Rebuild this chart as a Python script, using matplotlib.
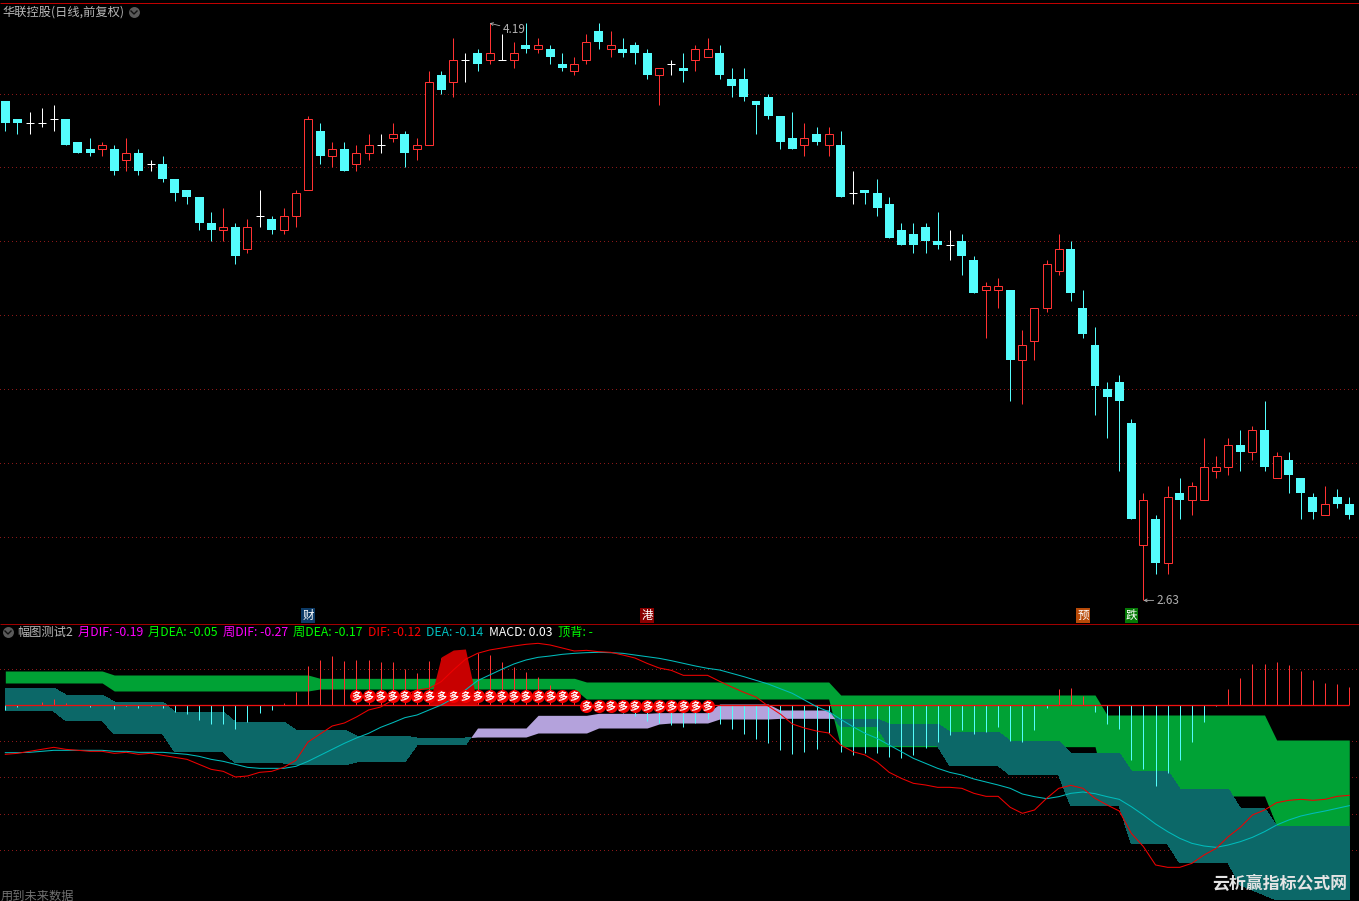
import numpy as np
import matplotlib
matplotlib.use('Agg')
import matplotlib.pyplot as plt

plt.rcParams['font.family'] = ['Noto Sans CJK SC', 'DejaVu Sans']

# daily prices
opens = [3.98,3.93,3.92,3.92,3.93,3.93,3.87,3.85,3.85,3.85,3.82,3.84,3.81,3.81,3.77,3.74,3.72,3.65,3.63,3.64,
         3.58,3.67,3.66,3.63,3.67,3.74,3.90,3.83,3.85,3.81,3.84,3.86,3.88,3.89,3.85,3.86,4.05,4.03,4.09,4.11,
         4.09,4.09,4.09,4.13,4.12,4.12,4.08,4.06,4.09,4.17,4.12,4.12,4.13,4.11,4.05,4.08,4.07,4.09,4.10,4.11,
         4.04,4.04,3.98,3.99,3.94,3.88,3.86,3.89,3.86,3.86,3.73,3.74,3.73,3.70,3.63,3.62,3.64,3.60,3.59,3.60,
         3.55,3.47,3.47,3.47,3.28,3.33,3.42,3.52,3.58,3.42,3.32,3.20,3.22,3.11,2.78,2.85,2.73,2.92,2.90,2.90,
         2.98,2.99,3.05,3.03,3.09,2.96,3.01,2.96,2.91,2.86,2.91,2.89]
closes = [3.92,3.92,3.92,3.92,3.93,3.86,3.84,3.84,3.86,3.79,3.84,3.79,3.81,3.77,3.73,3.72,3.65,3.63,3.64,3.56,
          3.64,3.67,3.63,3.67,3.73,3.93,3.83,3.85,3.79,3.84,3.86,3.86,3.89,3.84,3.86,4.03,4.01,4.09,4.09,4.08,
          4.11,4.09,4.11,4.12,4.13,4.10,4.07,4.08,4.14,4.14,4.13,4.11,4.11,4.05,4.07,4.08,4.06,4.12,4.12,4.05,
          4.02,3.99,3.97,3.94,3.87,3.85,3.88,3.87,3.89,3.72,3.73,3.73,3.69,3.61,3.59,3.59,3.60,3.59,3.59,3.56,
          3.46,3.48,3.48,3.28,3.32,3.42,3.54,3.58,3.46,3.35,3.21,3.18,3.17,2.85,2.90,2.73,2.91,2.90,2.94,2.99,
          2.99,3.05,3.03,3.09,2.99,3.02,2.97,2.92,2.87,2.89,2.89,2.86]
highs = [3.98,3.93,3.95,3.96,3.97,3.93,3.87,3.88,3.87,3.86,3.88,3.85,3.82,3.83,3.77,3.74,3.72,3.68,3.69,3.65,
         3.66,3.74,3.67,3.69,3.74,3.94,3.92,3.87,3.87,3.86,3.89,3.89,3.92,3.90,3.88,4.06,4.06,4.15,4.11,4.12,
         4.19,4.16,4.14,4.19,4.15,4.13,4.11,4.10,4.16,4.19,4.17,4.15,4.14,4.12,4.07,4.09,4.11,4.13,4.15,4.13,
         4.07,4.07,3.98,4.00,3.94,3.95,3.92,3.91,3.91,3.90,3.79,3.74,3.77,3.72,3.65,3.65,3.65,3.68,3.63,3.62,
         3.56,3.49,3.50,3.47,3.36,3.42,3.55,3.62,3.60,3.47,3.37,3.22,3.24,3.12,2.92,2.86,2.94,2.96,2.95,3.07,
         3.02,3.07,3.09,3.10,3.17,3.03,3.03,2.96,2.92,2.94,2.93,2.91]
lows = [3.90,3.89,3.89,3.91,3.90,3.86,3.84,3.83,3.83,3.78,3.79,3.78,3.79,3.76,3.71,3.70,3.63,3.60,3.60,3.54,
        3.57,3.64,3.62,3.62,3.64,3.74,3.81,3.80,3.79,3.79,3.82,3.84,3.87,3.80,3.82,3.86,4.00,3.99,4.03,4.06,
        4.08,4.09,4.07,4.11,4.11,4.08,4.06,4.05,4.08,4.12,4.10,4.10,4.08,4.04,3.97,4.05,4.03,4.06,4.10,4.04,
        3.99,3.98,3.89,3.93,3.85,3.85,3.83,3.86,3.83,3.72,3.70,3.70,3.67,3.61,3.59,3.57,3.57,3.58,3.55,3.51,
        3.46,3.34,3.42,3.17,3.16,3.28,3.41,3.51,3.44,3.34,3.13,3.07,2.98,2.85,2.63,2.70,2.70,2.85,2.86,2.90,
        2.96,2.97,2.98,3.01,2.98,2.96,2.92,2.85,2.85,2.86,2.88,2.85]
price_grid = [4.0, 3.8, 3.6, 3.4, 3.2, 3.0, 2.8]

# event tags under the candles: bar number, text, colour
tag_bars = [25, 53, 89, 93]
tag_text = ['财', '港', '预', '跌']
tag_colors = ['#0c3a66', '#8a0000', '#b84a08', '#067a06']

# lower panel in thousandths
macd = [-16,-7,0,8,17,4,0,-7,0,-13,-3,-10,-3,-10,-22,-28,-46,-58,-58,-73,-52,-25,-16,4,38,116,134,146,131,134,
        134,128,128,108,95,131,140,150,155,155,149,128,113,98,83,59,35,15,-10,-15,-20,-25,-35,-49,-56,-61,-67,-55,-43,-58,
        -73,-88,-103,-115,-136,-148,-142,-133,-85,-142,-151,-145,-145,-157,-160,-151,-130,-112,-91,-76,-88,-82,-67,-109,-112,-76,-10,47,50,26,
        -22,-58,-73,-166,-193,-244,-205,-166,-112,-52,-3,47,80,122,122,128,119,101,74,65,62,53]
dif = [-149,-146,-140,-134,-128,-134,-137,-140,-140,-146,-143,-149,-146,-152,-158,-164,-179,-194,-200,-217,-214,-203,-200,-188,-167,-112,-88,-64,-55,-37,
       -16,-7,14,29,44,49,69,104,136,154,164,170,176,181,184,179,170,161,163,159,157,149,140,124,110,103,88,88,88,70,
       53,37,23,-4,-28,-58,-70,-79,-85,-121,-141,-151,-172,-203,-221,-236,-241,-248,-248,-251,-266,-275,-275,-308,-326,-316,-281,-251,-242,-251,
       -281,-301,-319,-386,-426,-481,-488,-488,-476,-451,-431,-396,-368,-331,-316,-294,-287,-284,-287,-284,-275,-272]
dea = [-144,-144,-143,-140,-137,-137,-137,-137,-137,-140,-140,-143,-143,-143,-146,-149,-155,-164,-170,-179,-188,-191,-191,-191,-185,-170,-152,-134,-116,-100,
       -86,-68,-54,-39,-31,-16,-1,19,44,72,89,106,122,134,142,146,151,154,156,157,156,154,149,144,139,132,124,116,109,104,
       94,84,73,62,48,34,14,-6,-21,-44,-66,-86,-101,-121,-141,-161,-176,-191,-203,-211,-223,-232,-241,-251,-268,-276,-282,-276,-266,-262,
       -267,-276,-284,-306,-331,-358,-381,-401,-416,-424,-428,-421,-411,-398,-381,-361,-346,-334,-326,-319,-311,-303]
month_a = [101,101,101,101,101,101,101,101,101,89,89,89,89,89,89,89,89,89,89,89,89,89,89,89,89,89,
           79,79,79,79,79,79,79,79,79,79,79,79,79,79,79,79,79,79,79,79,79,79,
           68,68,68,68,68,68,68,68,68,68,68,68,68,68,68,68,68,68,68,68,68,
           29,29,29,29,29,29,29,29,29,29,29,29,29,29,29,29,29,29,29,29,29,29,
           -31,-31,-31,-31,-31,-31,-31,-31,-31,-31,-31,-31,-31,-31,
           -106,-106,-106,-106,-106,-106,-106]
month_b = [65,65,65,65,65,65,65,65,65,41,41,41,41,41,41,41,41,41,41,41,41,41,41,41,41,41,
           47,47,47,47,47,47,47,47,47,47,47,47,47,47,47,47,47,47,47,47,47,47,
           17,17,17,17,17,17,17,17,17,17,17,17,17,17,17,17,17,17,17,17,17,
           -126,-126,-126,-126,-126,-126,-126,-126,-126,-126,-126,-126,-126,-126,-126,-126,-126,-126,-126,-126,-126,-126,
           -274,-274,-274,-274,-274,-274,-274,-274,-274,-274,-274,-274,-274,-274,
           -364,-364,-364,-364,-364,-364,-364]
week_a = [50,50,50,50,50,29,29,29,29,8,8,8,8,8,-22,-22,-22,-22,-22,-52,-52,-52,-52,-52,-76,-76,-76,-76,-76,
          -94,-94,-94,-94,-94,-100,-100,-100,-100,-100,-97,-97,-97,-97,-97,-85,-85,-85,-85,-85,-70,-70,-70,-70,-70,
          -58,-55,-55,-55,-55,-43,-43,-43,-43,-43,-41,-41,-41,-41,-41,-43,-43,-43,-43,-58,-58,-58,-58,-58,
          -82,-82,-82,-82,-82,-109,-109,-109,-109,-109,-146,-146,-146,-146,-146,-199,-199,-199,-199,
          -253,-253,-253,-253,-253,-311,-311,-311,-364,-364,-364,-364,-364,-364,-364]
week_b = [-19,-19,-19,-19,-19,-48,-48,-48,-48,-88,-88,-88,-88,-88,-142,-142,-142,-142,-142,-175,-175,-175,-175,-175,-181,-181,-181,-181,-181,
          -172,-172,-172,-172,-172,-121,-121,-121,-121,-121,-70,-70,-70,-70,-70,-32,-32,-32,-32,-32,-26,-26,-26,-26,-26,
          -24,-24,-24,-24,-24,2,2,2,2,2,-16,-16,-16,-16,-16,-67,-67,-67,-67,-124,-124,-124,-124,-124,
          -183,-183,-183,-183,-183,-211,-211,-211,-211,-211,-304,-304,-304,-304,-304,-418,-418,-418,-418,
          -475,-475,-475,-475,-475,-541,-556,-571,-586,-586,-586,-586,-586,-586,-586]
hot_bars = [35, 36, 37, 38, 39]
hot_top = [0, 143, 164, 167, 0]
duo_bars = list(range(29, 59))
duo_vals = [27,27,27,27,27,27,27,27,27,27,27,27,27,27,27,27,27,27,27,
            -4,-4,-4,-4,-4,-4,-4,-4,-4,-4,-4]
panel_grid = [108, -110, -218, -329, -437]

BLACK = '#000000'
RED = '#ff3232'
CYAN = '#54fcfc'
GRID = '#8a1818'
LW = 0.72  # one screen pixel
W, H = 1359, 901
X_PER_BAR = 12.108
X0 = 5.3

fig = plt.figure(figsize=(W / 100, H / 100), dpi=100, facecolor=BLACK)
xlim = (-X0 / X_PER_BAR, (W - X0) / X_PER_BAR)

# candles
ax = fig.add_axes([0, (H - 623) / H, 1, 620 / H], facecolor=BLACK)
ax.set_xlim(xlim)
ax.set_ylim(2.5689, 4.2446)
ax.axis('off')
for p in price_grid:
    ax.axhline(p, color=GRID, lw=0.5, ls=(0, (1.4, 4.4)), zorder=1, antialiased=False)

for i in range(len(opens)):
    o, c, h, l = opens[i], closes[i], highs[i], lows[i]
    if c > o:
        ax.vlines(i, l, h, color=RED, lw=LW, zorder=2)
        ax.bar(i, c - o, 0.66, o, facecolor=BLACK, edgecolor=RED, lw=LW, zorder=3)
    elif c < o:
        ax.vlines(i, l, h, color=CYAN, lw=LW, zorder=2)
        ax.bar(i, o - c, 0.74, c, color=CYAN, lw=0, zorder=3, antialiased=False)
    else:
        ax.vlines(i, l, h, color='white', lw=LW, zorder=2)
        ax.hlines(o, i - 0.33, i + 0.33, color='white', lw=LW, zorder=3)

# high / low marks
ax.annotate('4.19', xy=(40, highs[40]), xytext=(13, -6), textcoords='offset pixels', color='#b0b0b0',
            fontsize=8.5, va='center', ha='left', zorder=5,
            arrowprops=dict(arrowstyle='->', color='#b0b0b0', lw=0.6, shrinkA=0, shrinkB=0, mutation_scale=5))
ax.annotate('2.63', xy=(94, lows[94]), xytext=(13, 0), textcoords='offset pixels', color='#b0b0b0',
            fontsize=8.5, va='center', ha='left', zorder=5,
            arrowprops=dict(arrowstyle='->', color='#b0b0b0', lw=0.6, shrinkA=0, shrinkB=0, mutation_scale=5))

for b, t, col in zip(tag_bars, tag_text, tag_colors):
    ax.text(b, 0.0115, t, color='white', fontsize=8.3, ha='center', va='center', zorder=6,
            transform=ax.get_xaxis_transform(),
            bbox=dict(boxstyle='square,pad=0.08', fc=col, ec='none'))

# indicator panel
ax2 = fig.add_axes([0, 0, 1, (H - 624) / H], facecolor=BLACK)
ax2.set_xlim(xlim)
ax2.set_ylim(-589, 242)
ax2.axis('off')
xs = np.arange(len(dif))
for g in panel_grid:
    ax2.axhline(g, color=GRID, lw=0.5, ls=(0, (1.4, 4.4)), zorder=1, antialiased=False)

m_a, m_b = np.array(month_a), np.array(month_b)
w_a, w_b = np.array(week_a), np.array(week_b)
ax2.fill_between(xs, m_a, m_b, color='#00a235', lw=0, zorder=2, antialiased=False)
ax2.fill_between(xs, w_a, w_b, where=w_a >= w_b, interpolate=True, color='#0c6868', lw=0, zorder=3, antialiased=False)
ax2.fill_between(xs, w_a, w_b, where=w_a <= w_b, interpolate=True, color='#b4a2dc', lw=0, zorder=3, antialiased=False)

for i, v in enumerate(macd):
    if v != 0:
        ax2.vlines(i, 0, v, color=RED if v > 0 else CYAN, lw=LW, zorder=4)
ax2.fill_between(hot_bars, hot_top, 0, color='#c80000', lw=0, zorder=5, antialiased=False)
ax2.hlines(0, 0, len(dif) - 1, color='#f01010', lw=LW * 1.3, zorder=6)
ax2.plot(xs, dea, color='#00bcbc', lw=0.75, zorder=7)
ax2.plot(xs, dif, color='#f00000', lw=0.75, zorder=7)

ax2.scatter(duo_bars, duo_vals, s=88, color='#f40000', lw=0, zorder=8)
for b, v in zip(duo_bars, duo_vals):
    ax2.text(b, v - 3, '多', color='white', fontsize=7.2, fontweight='bold', ha='center', va='center', zorder=9)

# window chrome and labels, in screen pixels
ui = fig.add_axes([0, 0, 1, 1], facecolor='none')
ui.set_xlim(0, W)
ui.set_ylim(H, 0)
ui.axis('off')
ui.hlines(2.5, 0, W, color='#c00000', lw=LW)
ui.hlines(623.5, 0, W, color='#a00000', lw=LW)

for cx, cy in [(134, 12), (8, 632)]:
    ui.scatter(cx, cy, s=62, color='#5a5a5a', lw=0)
    ui.plot([cx - 3, cx, cx + 3], [cy - 1, cy + 2, cy - 1], color='#101010', lw=1.0)

ui.text(2, 12, '华联控股(日线,前复权)', color='#b8b8b8', fontsize=8.8, va='center')
legend = [(17, '幅图测试2', '#b8b8b8'), (78, '月DIF: -0.19', '#ff00ff'), (148, '月DEA: -0.05', '#00ff00'),
          (223, '周DIF: -0.27', '#ff00ff'), (293, '周DEA: -0.17', '#00ff00'), (368, 'DIF: -0.12', '#ff0000'),
          (426, 'DEA: -0.14', '#00c0c0'), (489, 'MACD: 0.03', '#ffffff'), (558, '顶背: -', '#00ff00')]
for x, t, col in legend:
    ui.text(x, 632, t, color=col, fontsize=8.8, va='center')
ui.text(1, 896, '用到未来数据', color='#707070', fontsize=8.8, va='center')
ui.text(1212, 884, '云析赢指标公式网', color='#e4e4e4', fontsize=12.2, fontweight='bold', va='center')

fig.savefig('out.png', dpi=100, facecolor=BLACK)
